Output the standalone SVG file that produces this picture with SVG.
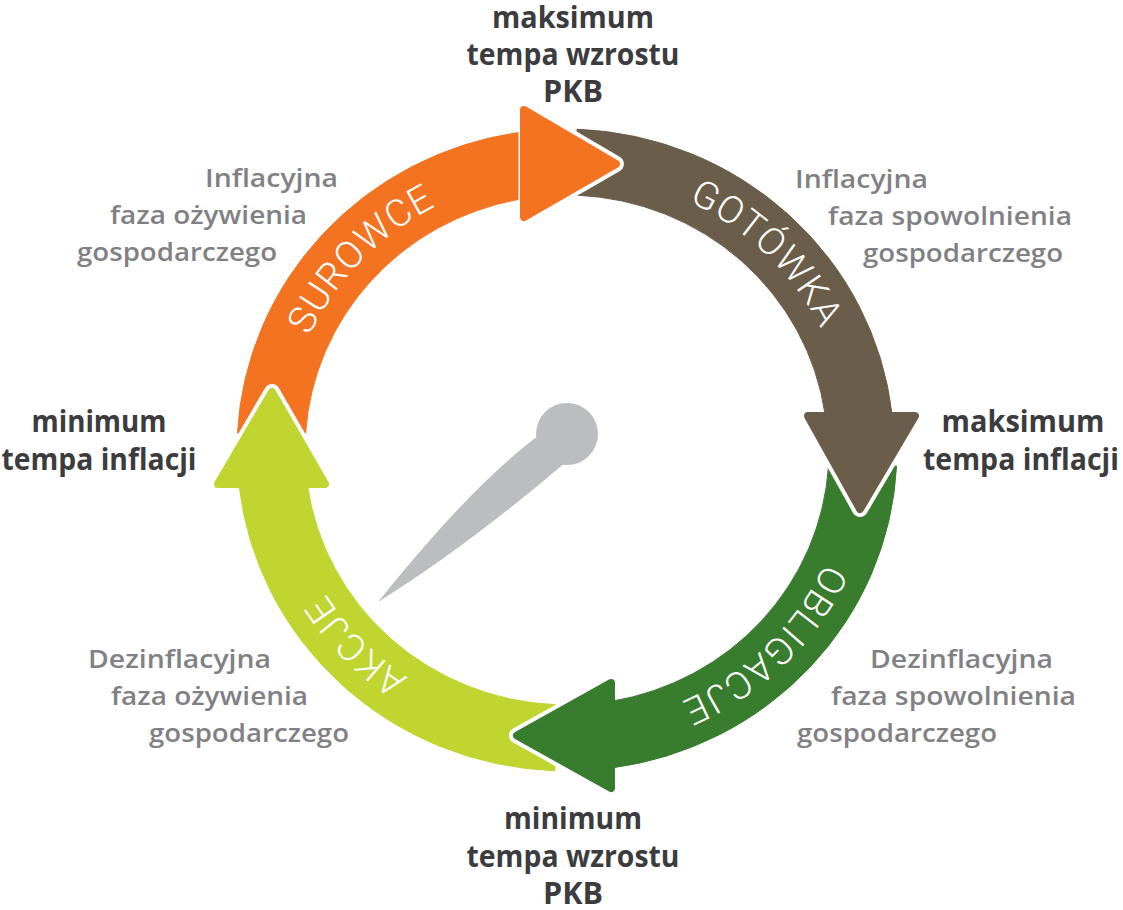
<svg xmlns="http://www.w3.org/2000/svg" width="1123" height="910" viewBox="0 0 1123 910">
<defs>
<style>
.bold{font-family:"Open Sans","Noto Sans","Liberation Sans",sans-serif;font-weight:700;font-size:31px;fill:#3c3c3e;text-anchor:middle}
.gray{font-family:"Open Sans","Noto Sans","Liberation Sans",sans-serif;font-weight:600;font-size:26px;fill:#818185}
.arc{font-family:Roboto,"Liberation Sans",sans-serif;font-weight:300;font-size:38px;letter-spacing:1px;fill:#ffffff;text-anchor:middle}
.halo{fill:none;stroke:#ffffff;stroke-width:16;stroke-linejoin:round;stroke-linecap:round}
.head{stroke-width:8;stroke-linejoin:round}
.orange{fill:#f37321;stroke:#f37321}
.brown{fill:#6a5e4a;stroke:#6a5e4a}
.green{fill:#387c2d;stroke:#387c2d}
.lime{fill:#c0d530;stroke:#c0d530}
</style>
<path id="pQ1" d="M 284,450 A 283 275 0 0 1 567,175"/>
<path id="pQ2" d="M 567,175 A 283 275 0 0 1 850,450"/>
<path id="pQ3" d="M 850,450 A 283 275 0 0 1 567,725"/>
<path id="pQ4" d="M 567,725 A 283 275 0 0 1 284,450"/>
</defs>
<rect width="1123" height="910" fill="#ffffff"/>
<g id="connectors">
  <path class="orange" stroke="none" d="M 237.5,433 A 330 321 0 0 1 518,132.6 L 518,199.5 A 262 255 0 0 0 305.6,433 Z"/>
  <path class="brown" stroke="none" d="M 577,129.2 A 330 321 0 0 1 892,414 L 825,414 A 262 255 0 0 0 577,195.2 Z"/>
  <path class="green" stroke="none" d="M 896.6,466 A 330 321 0 0 1 611,768.1 L 611,701.4 A 262 255 0 0 0 828.5,466 Z"/>
  <path class="lime" stroke="none" d="M 555,770.8 A 330 321 0 0 1 238.9,484 L 307.3,484 A 262 255 0 0 0 555,704.7 Z"/>
  <g id="head-surowce">
    <polyline class="halo" points="524,110 616,164 524,217"/>
    <polygon class="head orange" points="524,110 616,164 524,217"/>
  </g>
  <g id="head-gotowka">
    <polyline class="halo" points="808,416 860,509 915,416"/>
    <polygon class="head brown" points="808,416 860,509 915,416"/>
  </g>
  <g id="head-obligacje">
    <polyline class="halo" points="611,683 517,735.5 611,788"/>
    <polygon class="head green" points="611,683 517,735.5 611,788"/>
  </g>
  <g id="head-akcje">
    <polyline class="halo" points="218,484 272,392 325,484"/>
    <polygon class="head lime" points="218,484 272,392 325,484"/>
  </g>
</g>
<g id="node-surowce"><text class="arc"><textPath href="#pQ1" startOffset="48%">SUROWCE</textPath></text></g>
<g id="node-gotowka"><text class="arc"><textPath href="#pQ2" startOffset="50%">GOTÓWKA</textPath></text></g>
<g id="node-obligacje"><text class="arc"><textPath href="#pQ3" startOffset="50%">OBLIGACJE</textPath></text></g>
<g id="node-akcje"><text class="arc"><textPath href="#pQ4" startOffset="52%">AKCJE</textPath></text></g>
<g id="needle" fill="#bcbdc0">
  <circle cx="567" cy="434" r="31"/>
  <path d="M 538,436 Q 472,485 378,602 Q 465,548 566,462 Z"/>
</g>
<g id="label-top">
  <text class="bold" x="573" y="28" textLength="162" lengthAdjust="spacingAndGlyphs">maksimum</text>
  <text class="bold" x="573" y="65" textLength="213" lengthAdjust="spacingAndGlyphs">tempa wzrostu</text>
  <text class="bold" x="573" y="102" textLength="60" lengthAdjust="spacingAndGlyphs">PKB</text>
</g>
<g id="label-right">
  <text class="bold" x="1023" y="432" textLength="163" lengthAdjust="spacingAndGlyphs">maksimum</text>
  <text class="bold" x="1021" y="470" textLength="196" lengthAdjust="spacingAndGlyphs">tempa inflacji</text>
</g>
<g id="label-bottom">
  <text class="bold" x="573" y="829" textLength="138" lengthAdjust="spacingAndGlyphs">minimum</text>
  <text class="bold" x="573" y="867" textLength="213" lengthAdjust="spacingAndGlyphs">tempa wzrostu</text>
  <text class="bold" x="573" y="904" textLength="60" lengthAdjust="spacingAndGlyphs">PKB</text>
</g>
<g id="label-left">
  <text class="bold" x="99" y="432" textLength="135" lengthAdjust="spacingAndGlyphs">minimum</text>
  <text class="bold" x="99" y="470" textLength="195" lengthAdjust="spacingAndGlyphs">tempa inflacji</text>
</g>
<g id="phase-top-left">
  <text class="gray" x="205" y="187" textLength="133" lengthAdjust="spacingAndGlyphs">Inflacyjna</text>
  <text class="gray" x="110" y="224" textLength="197" lengthAdjust="spacingAndGlyphs">faza ożywienia</text>
  <text class="gray" x="77" y="261" textLength="200" lengthAdjust="spacingAndGlyphs">gospodarczego</text>
</g>
<g id="phase-top-right">
  <text class="gray" x="795" y="188" textLength="133" lengthAdjust="spacingAndGlyphs">Inflacyjna</text>
  <text class="gray" x="828" y="225" textLength="244" lengthAdjust="spacingAndGlyphs">faza spowolnienia</text>
  <text class="gray" x="863" y="262" textLength="200" lengthAdjust="spacingAndGlyphs">gospodarczego</text>
</g>
<g id="phase-bottom-left">
  <text class="gray" x="88" y="668" textLength="183" lengthAdjust="spacingAndGlyphs">Dezinflacyjna</text>
  <text class="gray" x="111" y="705" textLength="197" lengthAdjust="spacingAndGlyphs">faza ożywienia</text>
  <text class="gray" x="149" y="742" textLength="200" lengthAdjust="spacingAndGlyphs">gospodarczego</text>
</g>
<g id="phase-bottom-right">
  <text class="gray" x="870" y="668" textLength="183" lengthAdjust="spacingAndGlyphs">Dezinflacyjna</text>
  <text class="gray" x="831" y="705" textLength="245" lengthAdjust="spacingAndGlyphs">faza spowolnienia</text>
  <text class="gray" x="797" y="742" textLength="200" lengthAdjust="spacingAndGlyphs">gospodarczego</text>
</g>
</svg>
